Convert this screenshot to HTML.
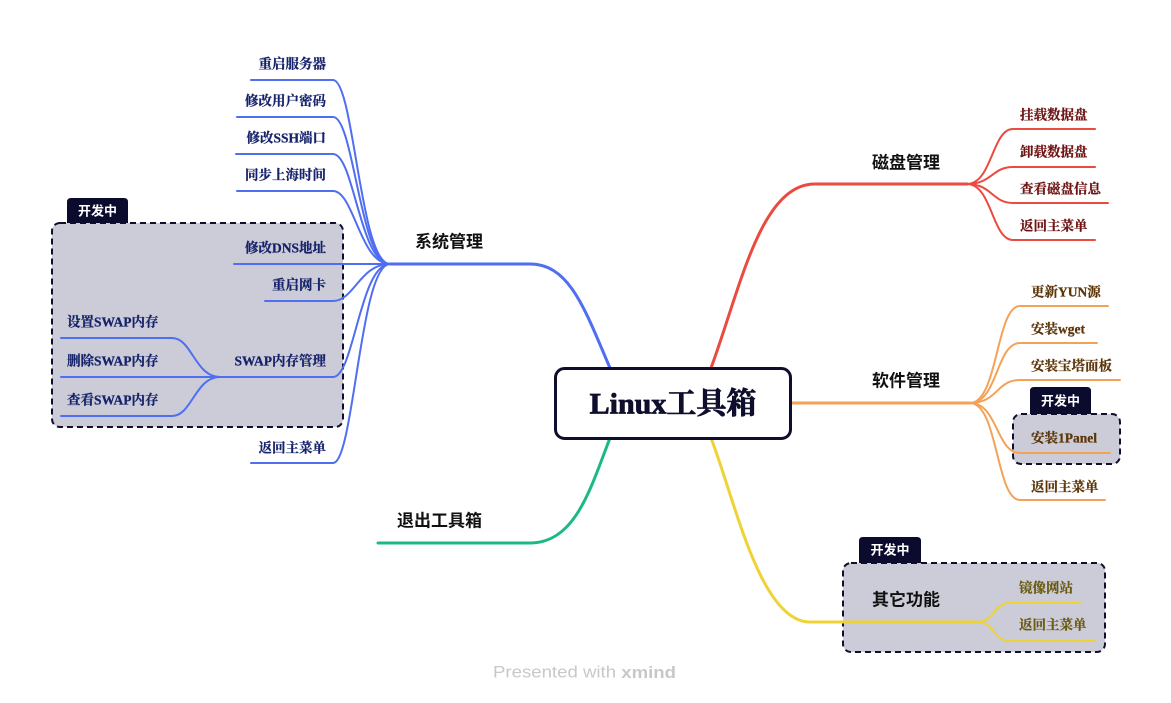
<!DOCTYPE html>
<html>
<head>
<meta charset="utf-8">
<style>
  html,body{margin:0;padding:0;background:#fff;}
  svg{display:block;}
  .ch{font-family:"Liberation Serif","Noto Serif CJK SC",serif;font-weight:bold;font-size:13.5px;stroke-width:0.25px;}
  .mb{font-family:"Liberation Sans","Noto Sans CJK SC",sans-serif;font-weight:bold;font-size:17px;fill:#111;}
  .tag{font-family:"Liberation Sans","Noto Sans CJK SC",sans-serif;font-weight:bold;font-size:13px;fill:#fff;}
</style>
</head>
<body>
<svg width="1171" height="703" viewBox="0 0 1171 703" xmlns="http://www.w3.org/2000/svg">
  <rect width="1171" height="703" fill="#fff"/>

  <!-- dashed boxes -->
  <rect x="52" y="223" width="291" height="204" rx="8" fill="#cbccd7" stroke="#10102e" stroke-width="2" stroke-dasharray="6 4"/>
  <rect x="1013" y="414" width="107" height="50" rx="8" fill="#cbccd7" stroke="#10102e" stroke-width="2" stroke-dasharray="6 4"/>
  <rect x="843" y="563" width="262" height="89" rx="8" fill="#cbccd7" stroke="#10102e" stroke-width="2" stroke-dasharray="6 4"/>

  <!-- tags -->
  <path d="M67 223 V202 Q67 198 71 198 H124 Q128 198 128 202 V223 Z" fill="#0b0b2e"/>
  <text class="tag" x="97.5" y="211" text-anchor="middle" dominant-baseline="central">开发中</text>
  <path d="M1030 414 V391 Q1030 387 1034 387 H1087 Q1091 387 1091 391 V414 Z" fill="#0b0b2e"/>
  <text class="tag" x="1060.5" y="401" text-anchor="middle" dominant-baseline="central">开发中</text>
  <path d="M859 563 V541 Q859 537 863 537 H917 Q921 537 921 541 V563 Z" fill="#0b0b2e"/>
  <text class="tag" x="890" y="550" text-anchor="middle" dominant-baseline="central">开发中</text>

  <!-- blue branch -->
  <g fill="none" stroke="#4f6ef2" stroke-linecap="round">
    <path d="M610 368 C585 310 570 264 530 264 L390 264" stroke-width="3"/>
    <g stroke-width="2">
      <path d="M390 264 C360 264 354 80 333 80 L251 80"/>
      <path d="M390 264 C360 264 354 117 333 117 L237 117"/>
      <path d="M390 264 C360 264 354 154 333 154 L236 154"/>
      <path d="M390 264 C360 264 354 191 333 191 L237 191"/>
      <path d="M390 264 L234 264"/>
      <path d="M390 264 C360 264 354 301 333 301 L265 301"/>
      <path d="M390 264 C360 264 354 377 333 377 L220 377"/>
      <path d="M390 264 C360 264 354 463 333 463 L251 463"/>
      <path d="M220 377 C195 377 192 338 172 338 L61 338"/>
      <path d="M220 377 L61 377"/>
      <path d="M220 377 C195 377 192 416 172 416 L61 416"/>
    </g>
  </g>

  <!-- red branch -->
  <g fill="none" stroke="#ea4a40" stroke-linecap="round">
    <path d="M711 368 C740 290 760 184 815 184 L967 184" stroke-width="3"/>
    <g stroke-width="2">
      <path d="M967 184 C992 184 992 129 1013 129 L1095 129"/>
      <path d="M967 184 C992 184 992 167 1013 167 L1095 167"/>
      <path d="M967 184 C992 184 992 203 1013 203 L1108 203"/>
      <path d="M967 184 C992 184 992 240 1013 240 L1095 240"/>
    </g>
  </g>

  <!-- orange branch -->
  <g fill="none" stroke="#f3a258" stroke-linecap="round">
    <path d="M791 403 L970 403" stroke-width="3"/>
    <g stroke-width="2">
      <path d="M970 403 C998 403 996 306 1020 306 L1108 306"/>
      <path d="M970 403 C998 403 996 343 1020 343 L1097 343"/>
      <path d="M970 403 C998 403 996 380 1020 380 L1120 380"/>
      <path d="M970 403 C998 403 996 453 1020 453 L1110 453"/>
      <path d="M970 403 C998 403 996 500 1020 500 L1105 500"/>
    </g>
  </g>

  <!-- yellow branch -->
  <g fill="none" stroke="#efd235" stroke-linecap="round">
    <path d="M711 438 C735 500 760 622 810 622 L977 622" stroke-width="3"/>
    <g stroke-width="2">
      <path d="M977 622 C995 622 993 603 1010 603 L1081 603"/>
      <path d="M977 622 C995 622 993 641 1010 641 L1095 641"/>
    </g>
  </g>

  <!-- green branch -->
  <path d="M610 438 C590 490 575 543 530 543 L378 543" fill="none" stroke="#1cb983" stroke-width="3" stroke-linecap="round"/>

  <!-- central node -->
  <rect x="555.5" y="368.5" width="235" height="70" rx="9" fill="#fff" stroke="#0f0f2d" stroke-width="3"/>
  <text x="673" y="404" text-anchor="middle" dominant-baseline="central" font-family="'Liberation Serif','Noto Serif CJK SC',serif" font-weight="bold" font-size="30" fill="#0f0f2d" stroke="#0f0f2d" stroke-width="0.8">Linux工具箱</text>

  <!-- main branch labels -->
  <text class="mb" x="415" y="242" dominant-baseline="central">系统管理</text>
  <text class="mb" x="872" y="163" dominant-baseline="central">磁盘管理</text>
  <text class="mb" x="872" y="381" dominant-baseline="central">软件管理</text>
  <text class="mb" x="872" y="600" dominant-baseline="central">其它功能</text>
  <text class="mb" x="397" y="521" dominant-baseline="central">退出工具箱</text>

  <!-- blue children -->
  <g class="ch" fill="#16226a" stroke="#16226a" text-anchor="end" dominant-baseline="central">
    <text x="326" y="64">重启服务器</text>
    <text x="326" y="101">修改用户密码</text>
    <text x="326" y="138">修改SSH端口</text>
    <text x="326" y="175">同步上海时间</text>
    <text x="326" y="248">修改DNS地址</text>
    <text x="326" y="285">重启网卡</text>
    <text x="326" y="361">SWAP内存管理</text>
    <text x="326" y="448">返回主菜单</text>
  </g>
  <g class="ch" fill="#16226a" stroke="#16226a" dominant-baseline="central">
    <text x="67" y="322">设置SWAP内存</text>
    <text x="67" y="361">删除SWAP内存</text>
    <text x="67" y="400">查看SWAP内存</text>
  </g>

  <!-- red children -->
  <g class="ch" fill="#6e1212" stroke="#6e1212" dominant-baseline="central">
    <text x="1020" y="115">挂载数据盘</text>
    <text x="1020" y="152">卸载数据盘</text>
    <text x="1020" y="189">查看磁盘信息</text>
    <text x="1020" y="226">返回主菜单</text>
  </g>

  <!-- orange children -->
  <g class="ch" fill="#5c3508" stroke="#5c3508" dominant-baseline="central">
    <text x="1031" y="292">更新YUN源</text>
    <text x="1031" y="329">安装wget</text>
    <text x="1031" y="366">安装宝塔面板</text>
    <text x="1031" y="438">安装1Panel</text>
    <text x="1031" y="487">返回主菜单</text>
  </g>

  <!-- yellow children -->
  <g class="ch" fill="#6b5a12" stroke="#6b5a12" dominant-baseline="central">
    <text x="1019" y="588">镜像网站</text>
    <text x="1019" y="625">返回主菜单</text>
  </g>

  <!-- watermark -->
  <text x="493" y="672" dominant-baseline="central" font-family="'Liberation Sans',sans-serif" font-size="17" fill="#c8c8c8" textLength="183" lengthAdjust="spacingAndGlyphs">Presented with <tspan font-weight="bold">xmind</tspan></text>
</svg>
</body>
</html>
